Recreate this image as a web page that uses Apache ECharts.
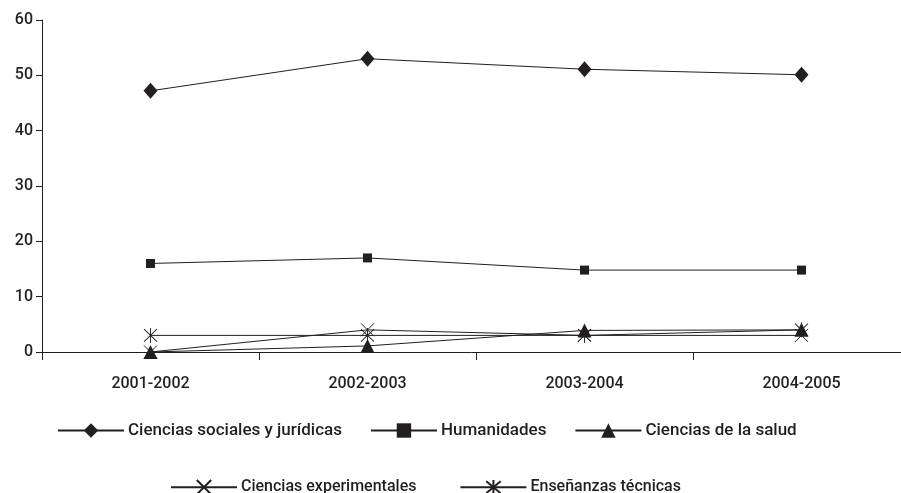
<!DOCTYPE html>
<html>
<head>
<meta charset="utf-8">
<script src="https://cdn.jsdelivr.net/npm/echarts@6/dist/echarts.min.js"></script>
<style>
  html, body { margin: 0; padding: 0; background: #fff; }
  #grafico { width: 901px; height: 493px; }
</style>
</head>
<body>
<div id="grafico"></div>
<script>
var cursos = ['2001-2002', '2002-2003', '2003-2004', '2004-2005'];
var ticksY = [0, 10, 20, 30, 40, 50, 60];

var sociales = [47.2, 53, 51.1, 50.1];
var humanidades = [16, 17, 14.8, 14.8];
var salud = [0, 1.1, 3.9, 4];
var experimentales = [0, 4, 3, 3];
var tecnicas = [3, 3, 3, 4];

var negro = '#231f20';
var fuente = 'Roboto';

var simboloX = 'path://M0,0L10,10M10,0L0,10';
var simboloAsterisco = 'path://M0,0L10,10M10,0L0,10M5,-1L5,11';

function serie(nombre, datos, simbolo, tam, hueco) {
    return {
        name: nombre,
        type: 'line',
        data: datos,
        symbol: simbolo,
        symbolSize: tam,
        showAllSymbol: true,
        lineStyle: { color: negro, width: 1 },
        itemStyle: hueco
            ? { color: 'rgba(0,0,0,0)', borderColor: negro, borderWidth: 1 }
            : { color: negro, borderWidth: 0 },
        emphasis: { disabled: true },
        animation: false
    };
}

var chartDom = document.getElementById('grafico');
var myChart = echarts.init(chartDom);

var textoLeyenda = { color: negro, fontFamily: fuente, fontSize: 17, fontWeight: 500, padding: [0, 0, 0, -1] };

var option = {
    backgroundColor: '#fff',
    animation: false,
    grid: { left: 42, width: 868, top: 20, bottom: 141, outerBoundsMode: 'none', containLabel: false },
    legend: [
        {
            left: 57, top: 422, padding: 0,
            itemWidth: 66, itemHeight: 18, itemGap: 28,
            textStyle: textoLeyenda,
            data: ['Ciencias sociales y jurídicas', 'Humanidades', 'Ciencias de la salud']
        },
        {
            left: 170, top: 479, padding: 0,
            itemWidth: 66, itemHeight: 18, itemGap: 43,
            textStyle: { color: negro, fontFamily: fuente, fontSize: 16, fontWeight: 500, padding: [0, 0, 0, -1] },
            data: ['Ciencias experimentales', 'Enseñanzas técnicas']
        }
    ],
    xAxis: {
        type: 'category',
        data: cursos,
        boundaryGap: true,
        axisLine: { lineStyle: { color: negro, width: 1 } },
        axisTick: { show: true, length: 8, lineStyle: { color: negro } },
        axisLabel: { color: negro, fontFamily: fuente, fontSize: 16, fontWeight: 500, margin: 24 },
        splitLine: { show: false }
    },
    yAxis: {
        type: 'value',
        min: ticksY[0],
        max: ticksY[ticksY.length - 1],
        interval: 10,
        axisLine: { show: true, lineStyle: { color: negro, width: 1 } },
        axisTick: { show: true, length: 6, lineStyle: { color: negro } },
        axisLabel: { color: negro, fontFamily: fuente, fontSize: 16, fontWeight: 500, margin: 9 },
        splitLine: { show: false }
    },
    series: [
        serie('Ciencias sociales y jurídicas', sociales, 'diamond', [14, 16], false),
        serie('Humanidades', humanidades, 'rect', 9, false),
        serie('Ciencias de la salud', salud, 'triangle', 14, false),
        serie('Ciencias experimentales', experimentales, simboloX, 13, true),
        serie('Enseñanzas técnicas', tecnicas, simboloAsterisco, [13, 15], true)
    ]
};

option && myChart.setOption(option);
</script>
</body>
</html>
